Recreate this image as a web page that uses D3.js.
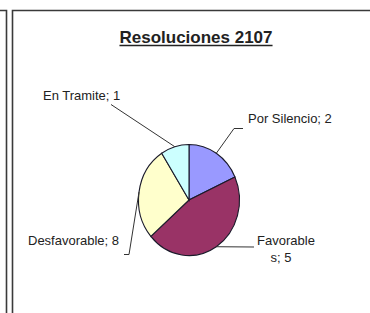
<!DOCTYPE html>
<html><head><meta charset="utf-8">
<script src="https://cdn.jsdelivr.net/npm/d3@7/dist/d3.min.js"></script>
<style>html,body{margin:0;padding:0;background:#fff;}svg{display:block;}</style>
</head><body>
<script>
// Data
const categories = ["Por Silencio", "Favorables", "Desfavorable", "En Tramite"];
// slice sizes as drawn in the picture (measured from slice angles)
const sliceValues = [2, 5, 3, 1];
// values as printed in the data labels
const labelValues = [2, 5, 8, 1];
const colors = ["#9999FF", "#993366", "#FFFFCC", "#CCFFFF"];
const title = "Resoluciones 2107";

const W = 370, H = 313;
const svg = d3.select("body").append("svg").attr("width", W).attr("height", H);

// frame lines
const frame = svg.append("g").attr("stroke", "#3a3a3a").attr("stroke-width", 1.6).attr("fill", "none");
frame.append("path").attr("d", "M0,10.5H6.5V313");
frame.append("path").attr("d", "M12.5,313V10.5H370");

// title
const t = svg.append("text").attr("x", 196).attr("y", 42.5).attr("text-anchor", "middle")
  .attr("font-family", "Liberation Sans, Arial, sans-serif").attr("font-weight", "bold")
  .attr("font-size", 17).attr("fill", "#222").text(title);
const tb = t.node().getBBox();
svg.append("line").attr("x1", tb.x).attr("x2", tb.x + tb.width).attr("y1", 45.5).attr("y2", 45.5)
  .attr("stroke", "#222").attr("stroke-width", 1.6);

// pie
const cx = 189, cy = 200, r = 50.5, sy = 1.1;
const pie = d3.pie().sort(null).value(d => d)(sliceValues);
const arc = d3.arc().innerRadius(0).outerRadius(r);
const g = svg.append("g").attr("transform", `translate(${cx},${cy}) scale(1,${sy})`);
g.selectAll("path").data(pie).join("path")
  .attr("d", arc).attr("fill", (d, i) => colors[i])
  .attr("stroke", "#1a1a2a").attr("stroke-width", 1.1).attr("vector-effect", "non-scaling-stroke");

function edge(d) {
  const a = (d.startAngle + d.endAngle) / 2;
  return [cx + r * Math.sin(a), cy - r * Math.cos(a) * sy];
}

// label layout: text lines, anchor, leader path (points before edge point)
const layout = [
  { lines: [[248, 123, "start"]], leader: [[243, 128.5], [234, 128.5]] },
  { lines: [[286, 245, "middle"], [281, 262, "middle"]], leader: [[254, 247]], split: 9 },
  { lines: [[28, 245, "start"]], leader: [[124, 254.5], [129, 254.5]] },
  { lines: [[43, 100, "start"]], leader: [[111, 104.5]] }
];

const lbl = svg.append("g").attr("font-family", "Liberation Sans, Arial, sans-serif")
  .attr("font-size", 13).attr("fill", "#222");
pie.forEach((d, i) => {
  const L = layout[i];
  const full = categories[i] + "; " + labelValues[i];
  const parts = L.split ? [full.slice(0, L.split), full.slice(L.split)] : [full];
  parts.forEach((p, j) => {
    const [x, y, anc] = L.lines[j];
    lbl.append("text").attr("x", x).attr("y", y).attr("text-anchor", anc).text(p);
  });
  const e = edge(d);
  const pts = i === 1 ? [e, ...L.leader] : [...L.leader, e];
  svg.append("path").attr("d", d3.line()(pts)).attr("fill", "none")
    .attr("stroke", "#333").attr("stroke-width", 1);
});
</script>
</body></html>
